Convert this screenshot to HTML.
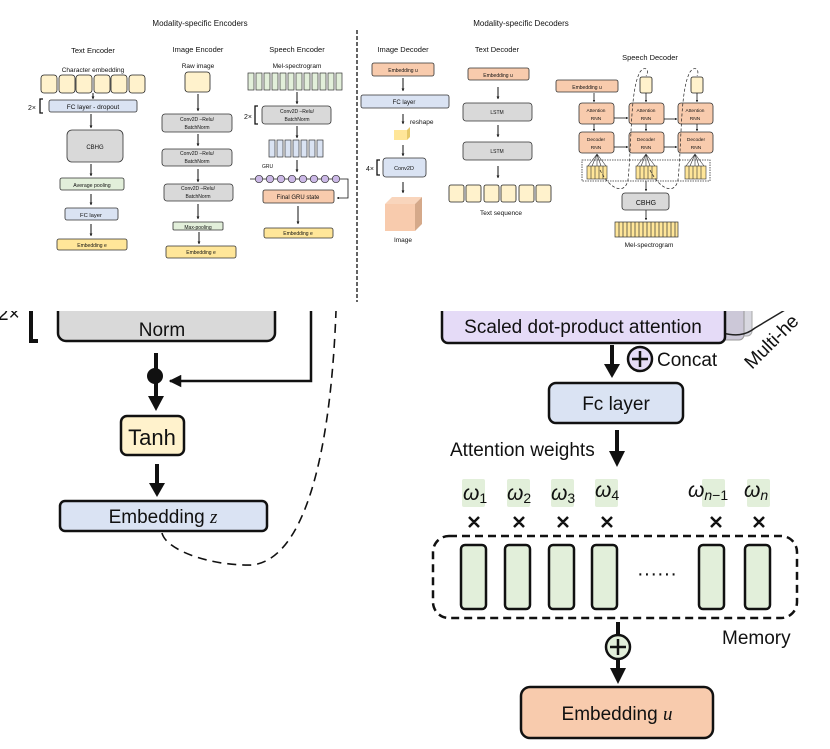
<!DOCTYPE html>
<html><head><meta charset="utf-8"><style>
html,body{margin:0;padding:0;background:#fff}
svg{display:block}
text{font-family:"Liberation Sans",sans-serif;fill:#111}
</style></head><body>
<svg width="830" height="749" viewBox="0 0 830 749" xmlns="http://www.w3.org/2000/svg">
<defs>
<marker id="a" viewBox="0 0 10 10" refX="9" refY="5" markerWidth="5" markerHeight="5" orient="auto"><path d="M0,0L10,5L0,10z" fill="#111"/></marker>
<marker id="as" viewBox="0 0 10 10" refX="9" refY="5" markerWidth="3" markerHeight="3" orient="auto"><path d="M0,0L10,5L0,10z" fill="#111"/></marker>
</defs>

<!-- ================= LOWER PART ================= -->
<rect x="722" y="296" width="30" height="40" rx="5" fill="#d8d8e0" stroke="#aaa"/>
<rect x="716" y="300" width="28" height="40" rx="5" fill="#ccc8d8" stroke="#999"/>
<path d="M722,333 C735,336 745,336 755,328 L785,310" stroke="#222" stroke-width="1.5" fill="none"/>
<text x="0" y="0" font-size="19" transform="translate(752,370) rotate(-45)">Multi-he</text>

<rect x="442" y="290" width="283" height="53" rx="6" fill="#e5dbf7" stroke="#111" stroke-width="2.5"/>
<text x="583" y="333" font-size="19" text-anchor="middle">Scaled dot-product attention</text>

<rect x="58" y="290" width="217" height="51" rx="8" fill="#d9d9d9" stroke="#111" stroke-width="2.5"/>
<text x="162" y="336" font-size="19" text-anchor="middle">Norm</text>
<text x="-2" y="320" font-size="19">2×</text>
<path d="M37,300 L31,300 L31,341 L38,341" stroke="#111" stroke-width="4" fill="none"/>

<path d="M311,290 L311,381 L170,381" stroke="#111" stroke-width="2.5" fill="none" marker-end="url(#a)"/>
<line x1="156" y1="353" x2="156" y2="398" stroke="#111" stroke-width="4"/>
<path d="M148,396 L164,396 L156,411 Z" fill="#111"/>
<circle cx="155" cy="376" r="8" fill="#111"/>

<rect x="121" y="416" width="63" height="39" rx="6" fill="#fff2cc" stroke="#111" stroke-width="2.5"/>
<text x="152" y="445" font-size="22" text-anchor="middle">Tanh</text>
<line x1="157" y1="464" x2="157" y2="485" stroke="#111" stroke-width="4"/>
<path d="M149,483 L165,483 L157,497 Z" fill="#111"/>

<rect x="60" y="501" width="207" height="30" rx="5" fill="#dae3f3" stroke="#111" stroke-width="2.5"/>
<text x="163" y="523" font-size="19" text-anchor="middle">Embedding <tspan font-family="Liberation Serif" font-style="italic">z</tspan></text>

<path d="M162,533 C166,550 210,566 252,565 C300,560 330,470 336,311" stroke="#111" stroke-width="1.6" stroke-dasharray="9,6" fill="none"/>

<line x1="612" y1="345" x2="612" y2="366" stroke="#111" stroke-width="4"/>
<path d="M604,364 L620,364 L612,378 Z" fill="#111"/>
<circle cx="640" cy="359" r="12" fill="#e5dbf7" stroke="#111" stroke-width="2.5"/>
<path d="M632,359 H648 M640,351 V367" stroke="#111" stroke-width="2.5"/>
<text x="657" y="366" font-size="19">Concat</text>

<rect x="549" y="383" width="134" height="40" rx="7" fill="#dae3f3" stroke="#111" stroke-width="2.5"/>
<text x="616" y="410" font-size="19" text-anchor="middle">Fc layer</text>

<text x="450" y="456" font-size="19">Attention weights</text>
<line x1="617" y1="430" x2="617" y2="453" stroke="#111" stroke-width="4"/>
<path d="M609,451 L625,451 L617,467 Z" fill="#111"/>

<g fill="#e2efda">
<rect x="462" y="479" width="23" height="28" rx="2"/>
<rect x="507" y="479" width="23" height="28" rx="2"/>
<rect x="551" y="479" width="23" height="28" rx="2"/>
<rect x="595" y="479" width="23" height="28" rx="2"/>
<rect x="702" y="479" width="23" height="28" rx="2"/>
<rect x="747" y="479" width="23" height="28" rx="2"/>
</g>
<g font-family="Liberation Serif" font-style="italic" font-size="21">
<text x="463" y="500">ω<tspan font-style="normal" font-size="14" dy="3">1</tspan></text>
<text x="507" y="500">ω<tspan font-style="normal" font-size="14" dy="3">2</tspan></text>
<text x="551" y="500">ω<tspan font-style="normal" font-size="14" dy="3">3</tspan></text>
<text x="595" y="497">ω<tspan font-style="normal" font-size="14" dy="3">4</tspan></text>
<text x="688" y="497">ω<tspan font-size="14" dy="3">n</tspan><tspan font-style="normal" font-size="14">−1</tspan></text>
<text x="744" y="497">ω<tspan font-size="14" dy="3">n</tspan></text>
</g>
<g stroke="#111" stroke-width="2.5">
<path d="M469,517l10,10m0,-10l-10,10 M514,517l10,10m0,-10l-10,10 M558,517l10,10m0,-10l-10,10 M602,517l10,10m0,-10l-10,10 M711,517l10,10m0,-10l-10,10 M754,517l10,10m0,-10l-10,10"/>
</g>

<rect x="433" y="536" width="364" height="82" rx="16" fill="none" stroke="#111" stroke-width="2.5" stroke-dasharray="8,5"/>
<g fill="#e2efda" stroke="#111" stroke-width="2.5">
<rect x="461" y="545" width="25" height="64" rx="4"/>
<rect x="505" y="545" width="25" height="64" rx="4"/>
<rect x="549" y="545" width="25" height="64" rx="4"/>
<rect x="592" y="545" width="25" height="64" rx="4"/>
<rect x="699" y="545" width="25" height="64" rx="4"/>
<rect x="745" y="545" width="25" height="64" rx="4"/>
</g>
<text x="637" y="580" font-size="20">······</text>
<text x="722" y="644" font-size="19">Memory</text>

<line x1="618" y1="622" x2="618" y2="672" stroke="#111" stroke-width="4"/>
<path d="M610,668 L626,668 L618,684 Z" fill="#111"/>
<circle cx="618" cy="647" r="12" fill="#e2efda" stroke="#111" stroke-width="2.5"/>
<path d="M610,647 H626 M618,639 V655" stroke="#111" stroke-width="2.5"/>

<rect x="521" y="687" width="192" height="51" rx="9" fill="#f8cbad" stroke="#111" stroke-width="2.5"/>
<text x="617" y="720" font-size="19" text-anchor="middle">Embedding <tspan font-family="Liberation Serif" font-style="italic">u</tspan></text>

<!-- ================= TOP PANEL ================= -->
<rect x="0" y="0" width="830" height="311" fill="#fff"/>
<line x1="357" y1="30" x2="357" y2="302" stroke="#111" stroke-width="1.3" stroke-dasharray="4,2"/>
<text x="200" y="26" font-size="8" text-anchor="middle">Modality-specific Encoders</text>
<text x="521" y="26" font-size="8" text-anchor="middle">Modality-specific Decoders</text>

<g font-size="7.5" text-anchor="middle">
<text x="93" y="53">Text Encoder</text>
<text x="198" y="52">Image Encoder</text>
<text x="297" y="52">Speech Encoder</text>
<text x="403" y="52">Image Decoder</text>
<text x="497" y="52">Text Decoder</text>
<text x="650" y="60">Speech Decoder</text>
</g>
<g font-size="6.5" text-anchor="middle">
<text x="93" y="72">Character embedding</text>
<text x="198" y="68">Raw image</text>
<text x="297" y="68">Mel-spectrogram</text>
<text x="501" y="215">Text sequence</text>
<text x="403" y="242">Image</text>
<text x="649" y="247">Mel-spectrogram</text>
</g>

<g fill="#fff2cc" stroke="#222" stroke-width="0.8">
<rect x="41" y="75" width="16" height="18" rx="3"/><rect x="59" y="75" width="16" height="18" rx="3"/><rect x="76" y="75" width="16" height="18" rx="3"/><rect x="94" y="75" width="16" height="18" rx="3"/><rect x="111" y="75" width="16" height="18" rx="3"/><rect x="129" y="75" width="16" height="18" rx="3"/>
</g>
<g stroke="#111" stroke-width="1" fill="none" marker-end="url(#as)">
<line x1="93" y1="93" x2="93" y2="99"/><line x1="91" y1="114" x2="91" y2="128"/><line x1="91" y1="164" x2="91" y2="176"/><line x1="91" y1="194" x2="91" y2="205"/><line x1="91" y1="224" x2="91" y2="236"/>
<line x1="198" y1="94" x2="198" y2="111"/><line x1="198" y1="134" x2="198" y2="146"/><line x1="198" y1="169" x2="198" y2="182"/><line x1="198" y1="204" x2="198" y2="219"/><line x1="199" y1="232" x2="199" y2="244"/>
<line x1="297" y1="92" x2="297" y2="104"/><line x1="297" y1="126" x2="297" y2="138"/><line x1="297" y1="160" x2="297" y2="172"/><line x1="298" y1="206" x2="298" y2="224"/>
<line x1="403" y1="78" x2="403" y2="91"/><line x1="403" y1="114" x2="403" y2="124"/><line x1="403" y1="145" x2="403" y2="156"/><line x1="403" y1="182" x2="403" y2="193"/>
<line x1="498" y1="87" x2="498" y2="99"/><line x1="498" y1="125" x2="498" y2="137"/><line x1="498" y1="166" x2="498" y2="178"/>
</g>
<text x="28" y="110" font-size="7">2×</text>
<path d="M43,99 L40,99 L40,113 L43,113" stroke="#111" stroke-width="1.3" fill="none"/>
<rect x="49" y="100" width="88" height="12" rx="2" fill="#dae3f3" stroke="#333" stroke-width="0.8"/>
<text x="93" y="109" font-size="6.5" text-anchor="middle">FC layer - dropout</text>
<rect x="67" y="130" width="56" height="32" rx="5" fill="#d9d9d9" stroke="#333" stroke-width="0.8"/>
<text x="95" y="149" font-size="6" text-anchor="middle">CBHG</text>
<rect x="60" y="178" width="64" height="12" rx="2" fill="#e2efda" stroke="#333" stroke-width="0.8"/>
<text x="92" y="187" font-size="5.2" text-anchor="middle">Average pooling</text>
<rect x="65" y="208" width="53" height="12" rx="2" fill="#dae3f3" stroke="#333" stroke-width="0.8"/>
<text x="91" y="217" font-size="5.8" text-anchor="middle">FC layer</text>
<rect x="57" y="239" width="70" height="11" rx="2" fill="#ffe699" stroke="#333" stroke-width="0.8"/>
<text x="92" y="247" font-size="5" text-anchor="middle">Embedding e</text>

<rect x="185" y="72" width="25" height="20" rx="3" fill="#fff2cc" stroke="#222" stroke-width="0.8"/>
<g fill="#d9d9d9" stroke="#333" stroke-width="0.8">
<rect x="162" y="114" width="70" height="18" rx="3"/><rect x="162" y="149" width="70" height="17" rx="3"/><rect x="164" y="184" width="69" height="17" rx="3"/>
<rect x="262" y="106" width="69" height="18" rx="3"/>
</g>
<g font-size="5" text-anchor="middle">
<text x="197" y="121">Conv2D –Relu/</text><text x="197" y="129">BatchNorm</text>
<text x="197" y="155">Conv2D –Relu/</text><text x="197" y="163">BatchNorm</text>
<text x="198" y="190">Conv2D –Relu/</text><text x="198" y="198">BatchNorm</text>
<text x="297" y="113">Conv2D –Relu/</text><text x="297" y="121">BatchNorm</text>
</g>
<rect x="173" y="222" width="50" height="8" rx="1" fill="#e2efda" stroke="#333" stroke-width="0.8"/>
<text x="198" y="229" font-size="5" text-anchor="middle">Max-pooling</text>
<rect x="166" y="246" width="70" height="12" rx="2" fill="#ffe699" stroke="#333" stroke-width="0.8"/>
<text x="201" y="254" font-size="5" text-anchor="middle">Embedding e</text>

<g fill="#e2efda" stroke="#333" stroke-width="0.7">
<rect x="248" y="73" width="6" height="17"/><rect x="256" y="73" width="6" height="17"/><rect x="264" y="73" width="6" height="17"/><rect x="272" y="73" width="6" height="17"/><rect x="280" y="73" width="6" height="17"/><rect x="288" y="73" width="6" height="17"/><rect x="296" y="73" width="6" height="17"/><rect x="304" y="73" width="6" height="17"/><rect x="312" y="73" width="6" height="17"/><rect x="320" y="73" width="6" height="17"/><rect x="328" y="73" width="6" height="17"/><rect x="336" y="73" width="6" height="17"/>
</g>
<text x="244" y="119" font-size="7">2×</text>
<path d="M258,106 L255,106 L255,124 L258,124" stroke="#111" stroke-width="1.3" fill="none"/>
<g fill="#dae3f3" stroke="#333" stroke-width="0.7">
<rect x="269" y="140" width="6" height="17"/><rect x="277" y="140" width="6" height="17"/><rect x="285" y="140" width="6" height="17"/><rect x="293" y="140" width="6" height="17"/><rect x="301" y="140" width="6" height="17"/><rect x="309" y="140" width="6" height="17"/><rect x="317" y="140" width="6" height="17"/>
</g>
<text x="262" y="168" font-size="5">GRU</text>
<path d="M250,179 L348,179 L348,198 L337,198" stroke="#111" stroke-width="0.8" fill="none" marker-end="url(#as)"/>
<g fill="#cbb8e6" stroke="#333" stroke-width="0.7">
<circle cx="259" cy="179" r="3.7"/><circle cx="270" cy="179" r="3.7"/><circle cx="281" cy="179" r="3.7"/><circle cx="292" cy="179" r="3.7"/><circle cx="303" cy="179" r="3.7"/><circle cx="314" cy="179" r="3.7"/><circle cx="325" cy="179" r="3.7"/><circle cx="336" cy="179" r="3.7"/>
</g>
<rect x="263" y="190" width="71" height="13" rx="2" fill="#f8cbad" stroke="#333" stroke-width="0.8"/>
<text x="298" y="199" font-size="6" text-anchor="middle">Final GRU state</text>
<rect x="264" y="228" width="69" height="10" rx="2" fill="#ffe699" stroke="#333" stroke-width="0.8"/>
<text x="298" y="235" font-size="5" text-anchor="middle">Embedding e</text>

<rect x="372" y="63" width="62" height="13" rx="2" fill="#f8cbad" stroke="#333" stroke-width="0.8"/>
<text x="403" y="72" font-size="5" text-anchor="middle">Embedding u</text>
<rect x="361" y="95" width="88" height="13" rx="2" fill="#dae3f3" stroke="#333" stroke-width="0.8"/>
<text x="404" y="104" font-size="6" text-anchor="middle">FC layer</text>
<text x="410" y="124" font-size="6.5">reshape</text>
<rect x="394" y="130" width="13" height="10" fill="#ffe699"/><path d="M407,130 L410,127 L410,137 L407,140 Z" fill="#e6c96a"/>
<text x="366" y="171" font-size="7">4×</text>
<path d="M380,160 L377,160 L377,175 L380,175" stroke="#111" stroke-width="1.3" fill="none"/>
<rect x="383" y="158" width="43" height="19" rx="3" fill="#dae3f3" stroke="#333" stroke-width="0.8"/>
<text x="404" y="170" font-size="5.5" text-anchor="middle">Conv2D</text>
<rect x="385" y="204" width="30" height="27" fill="#f8cbad"/>
<path d="M385,204 L392,197 L422,197 L415,204 Z" fill="#f9d5bc"/>
<path d="M415,204 L422,197 L422,224 L415,231 Z" fill="#d5a98a"/>

<rect x="468" y="68" width="61" height="12" rx="2" fill="#f8cbad" stroke="#333" stroke-width="0.8"/>
<text x="498" y="77" font-size="5" text-anchor="middle">Embedding u</text>
<rect x="463" y="103" width="69" height="18" rx="3" fill="#d9d9d9" stroke="#333" stroke-width="0.8"/>
<text x="497" y="114" font-size="5" text-anchor="middle">LSTM</text>
<rect x="463" y="142" width="69" height="18" rx="3" fill="#d9d9d9" stroke="#333" stroke-width="0.8"/>
<text x="497" y="153" font-size="5" text-anchor="middle">LSTM</text>
<g fill="#fff2cc" stroke="#222" stroke-width="0.8">
<rect x="449" y="185" width="15" height="17" rx="2"/><rect x="466" y="185" width="15" height="17" rx="2"/><rect x="484" y="185" width="15" height="17" rx="2"/><rect x="501" y="185" width="15" height="17" rx="2"/><rect x="519" y="185" width="15" height="17" rx="2"/><rect x="536" y="185" width="15" height="17" rx="2"/>
</g>

<rect x="556" y="80" width="62" height="12" rx="2" fill="#f8cbad" stroke="#333" stroke-width="0.8"/>
<text x="587" y="89" font-size="5" text-anchor="middle">Embedding u</text>
<rect x="640" y="77" width="12" height="16" rx="2" fill="#fff2cc" stroke="#222" stroke-width="0.8"/>
<rect x="691" y="77" width="12" height="16" rx="2" fill="#fff2cc" stroke="#222" stroke-width="0.8"/>
<g fill="#f8cbad" stroke="#333" stroke-width="0.8">
<rect x="579" y="103" width="35" height="21" rx="3"/><rect x="629" y="103" width="35" height="21" rx="3"/><rect x="678" y="103" width="35" height="21" rx="3"/>
<rect x="579" y="132" width="35" height="21" rx="3"/><rect x="629" y="132" width="35" height="21" rx="3"/><rect x="678" y="132" width="35" height="21" rx="3"/>
</g>
<g font-size="4.8" text-anchor="middle">
<text x="596" y="112">Attention</text><text x="596" y="120">RNN</text>
<text x="646" y="112">Attention</text><text x="646" y="120">RNN</text>
<text x="695" y="112">Attention</text><text x="695" y="120">RNN</text>
<text x="596" y="141">Decoder</text><text x="596" y="149">RNN</text>
<text x="646" y="141">Decoder</text><text x="646" y="149">RNN</text>
<text x="696" y="141">Decoder</text><text x="696" y="149">RNN</text>
</g>
<g stroke="#111" stroke-width="0.8" marker-end="url(#as)">
<line x1="594" y1="93" x2="594" y2="102"/><line x1="646" y1="93" x2="646" y2="102"/><line x1="697" y1="93" x2="697" y2="102"/>
<line x1="594" y1="124" x2="594" y2="131"/><line x1="646" y1="124" x2="646" y2="131"/><line x1="697" y1="124" x2="697" y2="131"/>
<line x1="614" y1="118" x2="628" y2="118"/><line x1="664" y1="119" x2="677" y2="119"/>
<line x1="614" y1="147" x2="628" y2="147"/><line x1="664" y1="147" x2="677" y2="147"/>
<line x1="646" y1="181" x2="646" y2="191"/><line x1="646" y1="210" x2="646" y2="220"/>
</g>
<rect x="582" y="160" width="128" height="21" fill="none" stroke="#333" stroke-width="0.8" stroke-dasharray="1.5,1"/>
<g fill="#ffe699" stroke="#333" stroke-width="0.6">
<rect x="587" y="166" width="20" height="13"/><rect x="636" y="166" width="21" height="13"/><rect x="685" y="166" width="21" height="13"/>
</g>
<g stroke="#333" stroke-width="0.6">
<path d="M591,166V179M595,166V179M599,166V179M603,166V179M640,166V179M644,166V179M648,166V179M652,166V179M689,166V179M693,166V179M697,166V179M701,166V179"/>
<path d="M588,166L597,154M592,166L597,154M597,166L597,154M601,166L597,154M606,166L597,154M637,166L646,154M641,166L646,154M646,166L646,154M650,166L646,154M655,166L646,154M686,166L695,154M690,166L695,154M695,166L695,154M699,166L695,154M704,166L695,154"/>
</g>
<path d="M600,170 C610,190 625,195 628,180 C632,140 630,90 640,72 C645,65 650,70 646,76" stroke="#222" stroke-width="0.7" fill="none" stroke-dasharray="3,2"/>
<path d="M650,170 C660,190 675,195 678,180 C682,140 680,90 690,72 C695,65 700,70 697,76" stroke="#222" stroke-width="0.7" fill="none" stroke-dasharray="3,2"/>
<rect x="622" y="193" width="47" height="17" rx="3" fill="#d9d9d9" stroke="#333" stroke-width="0.8"/>
<text x="646" y="205" font-size="7" text-anchor="middle">CBHG</text>
<rect x="615" y="222" width="63" height="15" fill="#ffe699" stroke="#333" stroke-width="0.7"/>
<path d="M619,222V237M623,222V237M627,222V237M631,222V237M635,222V237M639,222V237M643,222V237M647,222V237M651,222V237M655,222V237M659,222V237M663,222V237M667,222V237M671,222V237M675,222V237" stroke="#333" stroke-width="0.7"/>
</svg>
</body></html>
